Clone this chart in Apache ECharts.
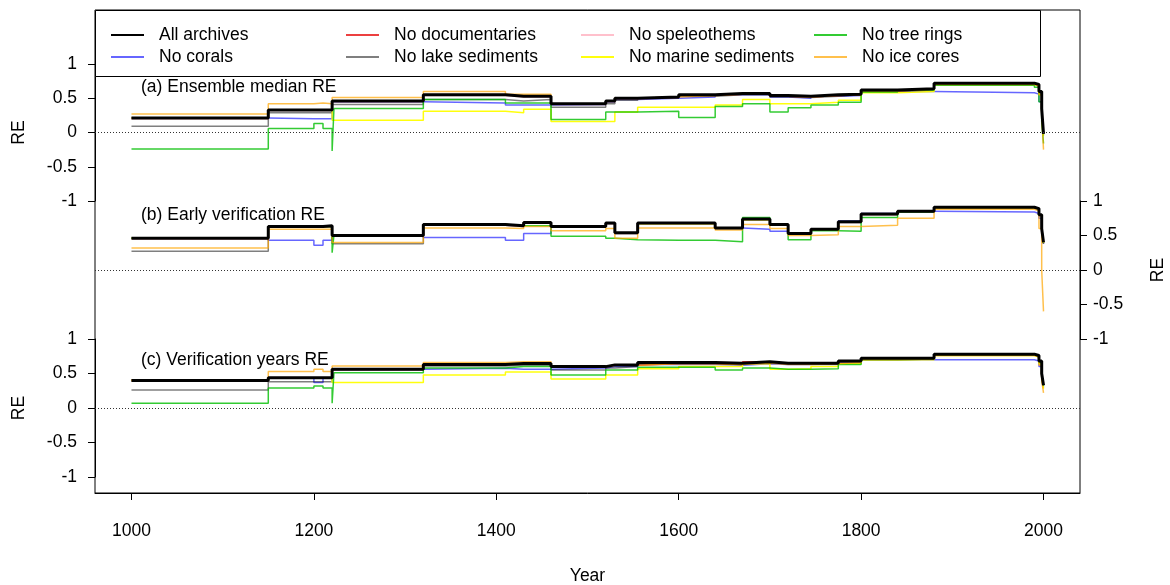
<!DOCTYPE html>
<html><head><meta charset="utf-8">
<script src="https://cdn.jsdelivr.net/npm/echarts@6/dist/echarts.min.js"></script>
<style>html,body{margin:0;padding:0;background:#fff}#c{width:1170px;height:585px}</style>
</head><body><div id="c"></div>
<script>
const years = [1000,1150,1200,1210,1220,1222,1320,1410,1430,1460,1520,1530,1555,1600,1640,1670,1700,1720,1745,1775,1800,1840,1880,1990,1995,1998,2000];
const xTicks = [1000,1200,1400,1600,1800,2000];
const seriesNames = ['All archives','No corals','No documentaries','No lake sediments','No speleothems','No marine sediments','No tree rings','No ice cores'];
const panelTitles = ['(a) Ensemble median RE','(b) Early verification RE','(c) Verification years RE'];

// Panel (a) Ensemble median RE
const aAll    = [0.21,0.33,0.33,0.33,0.46,0.46,0.55,0.53,0.53,0.42,0.46,0.50,0.52,0.55,0.57,0.57,0.54,0.53,0.55,0.56,0.62,0.64,0.72,0.70,0.60,0.35,-0.02];
const aCorals = [0.21,0.20,0.20,0.20,0.45,0.45,0.43,0.40,0.40,0.41,0.45,0.48,0.50,0.52,0.55,0.55,0.52,0.50,0.53,0.54,0.60,0.60,0.58,0.56,0.45,0.25,0.00];
const aDoc    = [0.21,0.33,0.33,0.33,0.46,0.46,0.55,0.53,0.53,0.42,0.46,0.50,0.52,0.55,0.56,0.56,0.53,0.52,0.54,0.55,0.61,0.63,0.71,0.69,0.59,0.34,-0.02];
const aLake   = [0.09,0.29,0.29,0.29,0.41,0.41,0.48,0.46,0.48,0.37,0.42,0.47,0.50,0.53,0.55,0.55,0.52,0.51,0.53,0.55,0.60,0.62,0.70,0.68,0.57,0.32,-0.03];
const aSpel   = [0.20,0.32,0.32,0.32,0.45,0.45,0.54,0.52,0.52,0.41,0.45,0.49,0.51,0.54,0.56,0.56,0.53,0.52,0.54,0.55,0.61,0.63,0.71,0.69,0.59,0.34,-0.02];
const aMarine = [0.21,0.33,0.33,0.33,0.18,0.18,0.31,0.29,0.34,0.16,0.16,0.30,0.37,0.37,0.40,0.48,0.42,0.42,0.44,0.47,0.58,0.60,0.70,0.68,0.55,0.30,-0.05];
const aTree   = [-0.24,0.06,0.13,0.06,-0.27,0.35,0.48,0.43,0.43,0.19,0.30,0.30,0.31,0.22,0.38,0.42,0.30,0.36,0.40,0.44,0.59,0.62,0.69,0.66,0.45,0.15,-0.16];
const aIce    = [0.27,0.42,0.43,0.42,0.51,0.51,0.60,0.56,0.56,0.42,0.46,0.50,0.52,0.54,0.56,0.56,0.53,0.52,0.54,0.55,0.61,0.63,0.70,0.68,0.55,0.25,-0.25];

// Panel (b) Early verification RE
const bAll    = [0.46,0.63,0.63,0.64,0.50,0.50,0.66,0.64,0.69,0.63,0.68,0.54,0.68,0.68,0.61,0.74,0.66,0.53,0.59,0.70,0.81,0.85,0.91,0.89,0.80,0.60,0.40];
const bCorals = [0.46,0.43,0.36,0.43,0.50,0.50,0.47,0.43,0.53,0.63,0.68,0.54,0.68,0.68,0.61,0.59,0.56,0.53,0.59,0.71,0.82,0.85,0.84,0.82,0.75,0.55,0.38];
const bDoc    = [0.46,0.63,0.63,0.64,0.50,0.50,0.66,0.64,0.69,0.63,0.68,0.54,0.68,0.68,0.61,0.74,0.66,0.52,0.59,0.70,0.81,0.85,0.91,0.89,0.80,0.60,0.40];
const bLake   = [0.27,0.62,0.62,0.62,0.38,0.38,0.65,0.63,0.68,0.62,0.67,0.53,0.67,0.67,0.60,0.73,0.65,0.52,0.58,0.69,0.80,0.84,0.90,0.88,0.79,0.58,0.38];
const bSpel   = [0.45,0.62,0.62,0.63,0.49,0.49,0.65,0.63,0.68,0.62,0.67,0.53,0.67,0.67,0.60,0.73,0.65,0.52,0.58,0.69,0.80,0.84,0.90,0.88,0.79,0.59,0.39];
const bMarine = [0.46,0.63,0.63,0.63,0.50,0.50,0.66,0.64,0.69,0.63,0.68,0.54,0.67,0.67,0.61,0.73,0.65,0.53,0.58,0.70,0.81,0.85,0.90,0.88,0.79,0.59,0.39];
const bTree   = [0.46,0.63,0.63,0.63,0.25,0.51,0.66,0.64,0.64,0.49,0.46,0.44,0.43,0.43,0.41,0.76,0.65,0.44,0.57,0.56,0.76,0.84,0.91,0.89,0.80,0.60,0.40];
const bIce    = [0.32,0.59,0.59,0.59,0.40,0.40,0.61,0.60,0.63,0.57,0.60,0.46,0.61,0.61,0.58,0.66,0.60,0.50,0.51,0.63,0.65,0.75,0.88,0.86,0.60,0.00,-0.60];

// Panel (c) Verification years RE
const cAll    = [0.40,0.44,0.44,0.44,0.56,0.56,0.63,0.645,0.645,0.60,0.625,0.625,0.66,0.66,0.65,0.67,0.65,0.65,0.65,0.68,0.72,0.72,0.78,0.76,0.68,0.50,0.33];
const cCorals = [0.40,0.44,0.37,0.44,0.56,0.56,0.575,0.56,0.56,0.58,0.60,0.60,0.63,0.63,0.62,0.64,0.63,0.63,0.63,0.66,0.70,0.70,0.70,0.68,0.60,0.45,0.30];
const cDoc    = [0.40,0.44,0.44,0.44,0.56,0.56,0.63,0.64,0.64,0.60,0.62,0.62,0.645,0.645,0.63,0.67,0.645,0.645,0.645,0.675,0.715,0.715,0.775,0.755,0.675,0.49,0.33];
const cLake   = [0.26,0.38,0.38,0.38,0.55,0.55,0.61,0.62,0.62,0.55,0.58,0.60,0.64,0.64,0.63,0.66,0.64,0.64,0.64,0.67,0.71,0.71,0.77,0.75,0.66,0.48,0.32];
const cSpel   = [0.395,0.435,0.435,0.435,0.555,0.555,0.625,0.64,0.64,0.595,0.62,0.62,0.655,0.655,0.645,0.665,0.645,0.645,0.645,0.675,0.715,0.715,0.775,0.755,0.675,0.495,0.325];
const cMarine = [0.40,0.44,0.44,0.44,0.37,0.37,0.48,0.52,0.52,0.42,0.48,0.48,0.57,0.60,0.60,0.64,0.56,0.57,0.60,0.64,0.70,0.70,0.76,0.74,0.64,0.45,0.28];
const cTree   = [0.07,0.29,0.32,0.29,0.07,0.51,0.58,0.60,0.60,0.48,0.55,0.55,0.59,0.59,0.55,0.58,0.56,0.56,0.57,0.63,0.70,0.71,0.77,0.75,0.66,0.48,0.32];
const cIce    = [0.41,0.53,0.56,0.53,0.61,0.61,0.66,0.67,0.67,0.60,0.62,0.62,0.64,0.64,0.63,0.65,0.63,0.63,0.64,0.66,0.70,0.71,0.76,0.74,0.62,0.40,0.22];

const panels = [
  [aAll,aCorals,aDoc,aLake,aSpel,aMarine,aTree,aIce],
  [bAll,bCorals,bDoc,bLake,bSpel,bMarine,bTree,bIce],
  [cAll,cCorals,cDoc,cLake,cSpel,cMarine,cTree,cIce]
];

const colors = ['#000000','rgba(0,0,255,0.6)','rgba(230,0,0,0.75)','rgba(0,0,0,0.5)','rgba(255,150,170,0.6)','rgba(255,255,0,0.95)','rgba(0,190,0,0.8)','rgba(255,165,0,0.7)'];
const FONT = '"Liberation Sans", Arial, sans-serif';
const FS = 17.5;

const chart = echarts.init(document.getElementById('c'), null, {renderer:'canvas'});

const grids = [
  {left:95, right:90, top:10, height:483, show:true, borderColor:'#000', borderWidth:1, backgroundColor:'transparent', outerBoundsMode:'none', containLabel:false},
  {left:95, right:90, top:64, height:137, outerBoundsMode:'none', containLabel:false},
  {left:95, right:90, top:201, height:138, outerBoundsMode:'none', containLabel:false},
  {left:95, right:90, top:339, height:138, outerBoundsMode:'none', containLabel:false}
];

const xAxes = [
  {gridIndex:0, type:'value', min:960, max:2040, position:'bottom',
   axisLine:{show:true, lineStyle:{color:'#000', width:1}},
   axisTick:{show:true, length:7, inside:false, lineStyle:{color:'#000'}, customValues:xTicks},
   axisLabel:{show:true, color:'#000', fontSize:FS, fontFamily:FONT, margin:29, customValues:xTicks, formatter:v=>String(v)},
   splitLine:{show:false},
   name:'Year', nameLocation:'middle', nameGap:74, nameTextStyle:{color:'#000', fontSize:FS, fontFamily:FONT}}
];
for (let p=1;p<=3;p++) xAxes.push({gridIndex:p, type:'value', min:960, max:2040, show:false, splitLine:{show:false}});

const yAxes = [{gridIndex:0, type:'value', min:0, max:1, show:false, splitLine:{show:false}}];
const yPos = ['left','right','left'];
for (let p=0;p<3;p++) {
  const right = yPos[p]==='right';
  yAxes.push({
    gridIndex:p+1, type:'value', min:-1, max:1, interval:0.5, position:yPos[p],
    axisLine:{show:true, lineStyle:{color:'#000', width:1}},
    axisTick:{show:true, length:7, inside:false, lineStyle:{color:'#000'}},
    axisLabel:{color:'#000', fontSize:FS, fontFamily:FONT, margin: right ? 13 : 18},
    splitLine:{show:false},
    name:'RE', nameLocation:'middle', nameGap: right ? 69 : 67, nameRotate:90,
    nameTextStyle:{color:'#000', fontSize:FS, fontFamily:FONT}
  });
}

const series = [];
for (let p=0;p<3;p++) {
  panels[p].forEach((vals,i)=>{
    const s = {
      name: seriesNames[i], type:'line', xAxisIndex:p+1, yAxisIndex:p+1,
      step:'end', symbol:'none', showSymbol:false, animation:false, silent:true,
      data: years.map((y,k)=>[y, vals[k]]),
      lineStyle:{color:colors[i], width: i===0 ? 3 : 1.5},
      itemStyle:{color:colors[i]},
      z: i===0 ? 4 : 3
    };
    if (i===0) {
      s.markLine = {symbol:'none', silent:true, animation:false, label:{show:false},
        lineStyle:{type:[1,2], color:'#333', width:1}, data:[{yAxis:0}]};
    }
    series.push(s);
  });
}

const legendCols = [[0,1],[2,3],[4,5],[6,7]];
const legendLeft = [110,345,580,813];
const legends = legendCols.map((idx,c)=>({
  left: legendLeft[c], top: 26, orient:'vertical', itemWidth:33, itemHeight:14, itemGap:4, padding:0,
  selectedMode:false, z:6,
  itemStyle:{opacity:0},
  data: idx.map(i=>seriesNames[i]),
  textStyle:{color:'#000', fontSize:FS, fontFamily:FONT, padding:[0,0,0,10]}
}));

const graphics = [
  {type:'rect', z:5, shape:{x:95.5, y:10.5, width:945, height:66}, style:{fill:'#fff', stroke:'#000', lineWidth:1}}
];
const titleY = [87, 215, 360];
panelTitles.forEach((t,i)=>graphics.push({type:'text', z:6, x:141, y:titleY[i],
  style:{text:t, fill:'#000', font: FS+'px '+FONT, verticalAlign:'middle', align:'left'}}));

chart.setOption({
  animation:false,
  backgroundColor:'#fff',
  grid: grids, xAxis: xAxes, yAxis: yAxes, series: series, legend: legends, graphic: graphics
});
</script></body></html>
